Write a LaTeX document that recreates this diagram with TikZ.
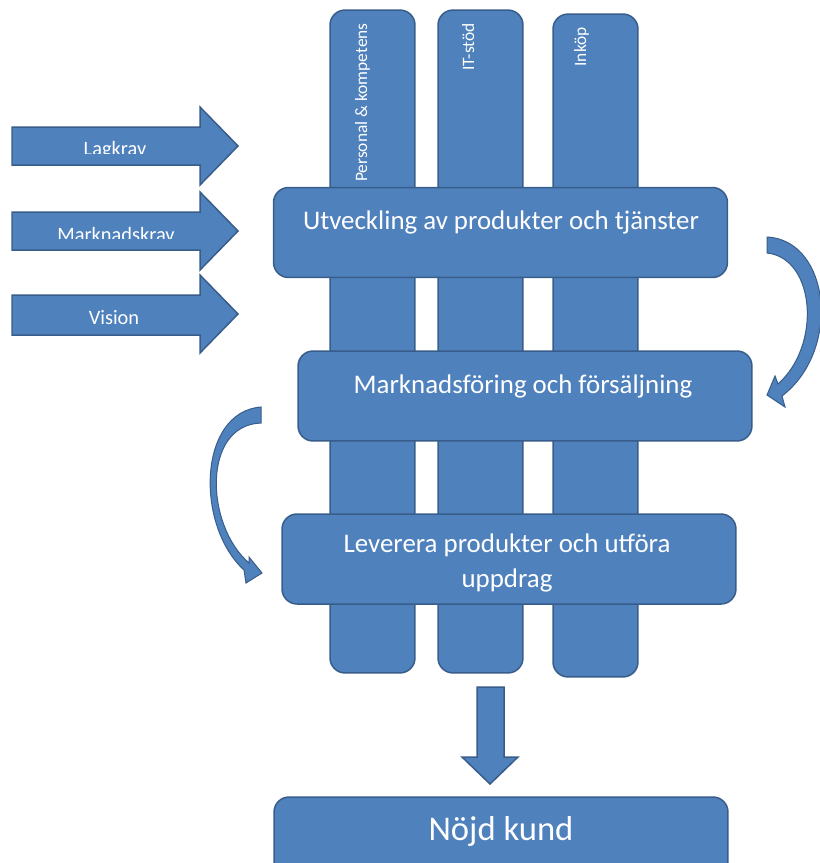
\documentclass[tikz,border=0pt]{standalone}
\usepackage{fontspec}
\setmainfont{Carlito}
\definecolor{boxblue}{HTML}{4F81BD}
\definecolor{boxedge}{HTML}{385D8A}
\begin{document}
\begin{tikzpicture}[
			x=0.02cm, y=-0.02cm,
			every node/.style={text=white, inner sep=0},
			bar/.style={draw=boxedge, fill=boxblue, line width=0.03cm, rounded corners=0.3cm, minimum width=1.7cm, minimum height=13.26cm},
			stage/.style={draw=boxedge, fill=boxblue, line width=0.03cm, rounded corners=0.3cm, minimum width=9.08cm, minimum height=1.8cm},
			blockarrow/.style={draw=boxedge, fill=boxblue, line width=0.03cm, line join=miter},
			curvearrow/.style={draw=boxedge, fill=boxblue, line width=0.02cm},
			stagetext/.style={font=\fontsize{15.3}{19.8}\selectfont, align=center, anchor=base},
			bartext/.style={font=\fontsize{9.9}{12}\selectfont, rotate=90, anchor=base east},
			reqtext/.style={font=\fontsize{11.6}{14}\selectfont, anchor=base},
		]
		\useasboundingbox (0,0) rectangle (820,863);
		\clip (0,0) rectangle (820,863);
		\draw[blockarrow] (12,127) -- (200,127) -- (200,107) -- (238,146) -- (200,185) -- (200,165) -- (12,165) -- cycle;
		\draw[blockarrow] (12,212) -- (200,212) -- (200,192) -- (238,231) -- (200,270) -- (200,250) -- (12,250) -- cycle;
		\draw[blockarrow] (12,295) -- (200,295) -- (200,275) -- (238,314) -- (200,353) -- (200,335) -- (12,335) -- cycle;
		\begin{scope}
			\clip (12,127) rectangle (200,153);
			\node[reqtext] (lagkrav) at (115,155) {Lagkrav};
		\end{scope}
		\begin{scope}
			\clip (12,212) rectangle (200,238);
			\node[reqtext] (marknadskrav) at (116,241) {Marknadskrav};
		\end{scope}
		\node[reqtext] (vision) at (114,324) {Vision};
		\node[bar] (personal) at (372.5,341.5) {};
		\node[bar] (itstod) at (480.5,341.5) {};
		\node[bar] (inkop) at (595.5,345.5) {};
		\node[bartext] (personaltext) at (367,23) {Personal \& kompetens};
		\node[bartext] (itstodtext) at (474,23) {IT-stöd};
		\node[bartext] (inkoptext) at (586,27) {Inköp};
		\node[stage] (utv) at (500.5,232.5) {};
		\node[stagetext] (utvtext) at (501,229) {Utveckling av produkter och tjänster};
		\node[stage] (mark) at (525,396) {};
		\node[stagetext] (marktext) at (523,393) {Marknadsföring och försäljning};
		\node[stage] (lev) at (509,559) {};
		\node[stagetext] (levtext) at (507,587) {Leverera produkter och utföra\\uppdrag};
		\draw[curvearrow] (767,237) .. controls (830,240) and (842,350) .. (782,396) -- (785,407) -- (767,395) -- (775,376) -- (778,384) .. controls (822,345) and (815,258) .. (767,253) -- cycle;
		\draw[curvearrow] (261,407) .. controls (198,412) and (195,525) .. (244,570) -- (246,583) -- (262,573) -- (249,557) -- (249,563) .. controls (205,525) and (202,425) .. (261,423) -- cycle;
		\draw[blockarrow] (477,687) -- (504,687) -- (504,757) -- (518,757) -- (490,784) -- (462,757) -- (477,757) -- cycle;
		\node[stage] (nojd) at (501,842) {};
		\node[stagetext, font=\fontsize{19.7}{24}\selectfont] (nojdtext) at (501,840) {Nöjd kund};
		\end{tikzpicture}
\end{document}
